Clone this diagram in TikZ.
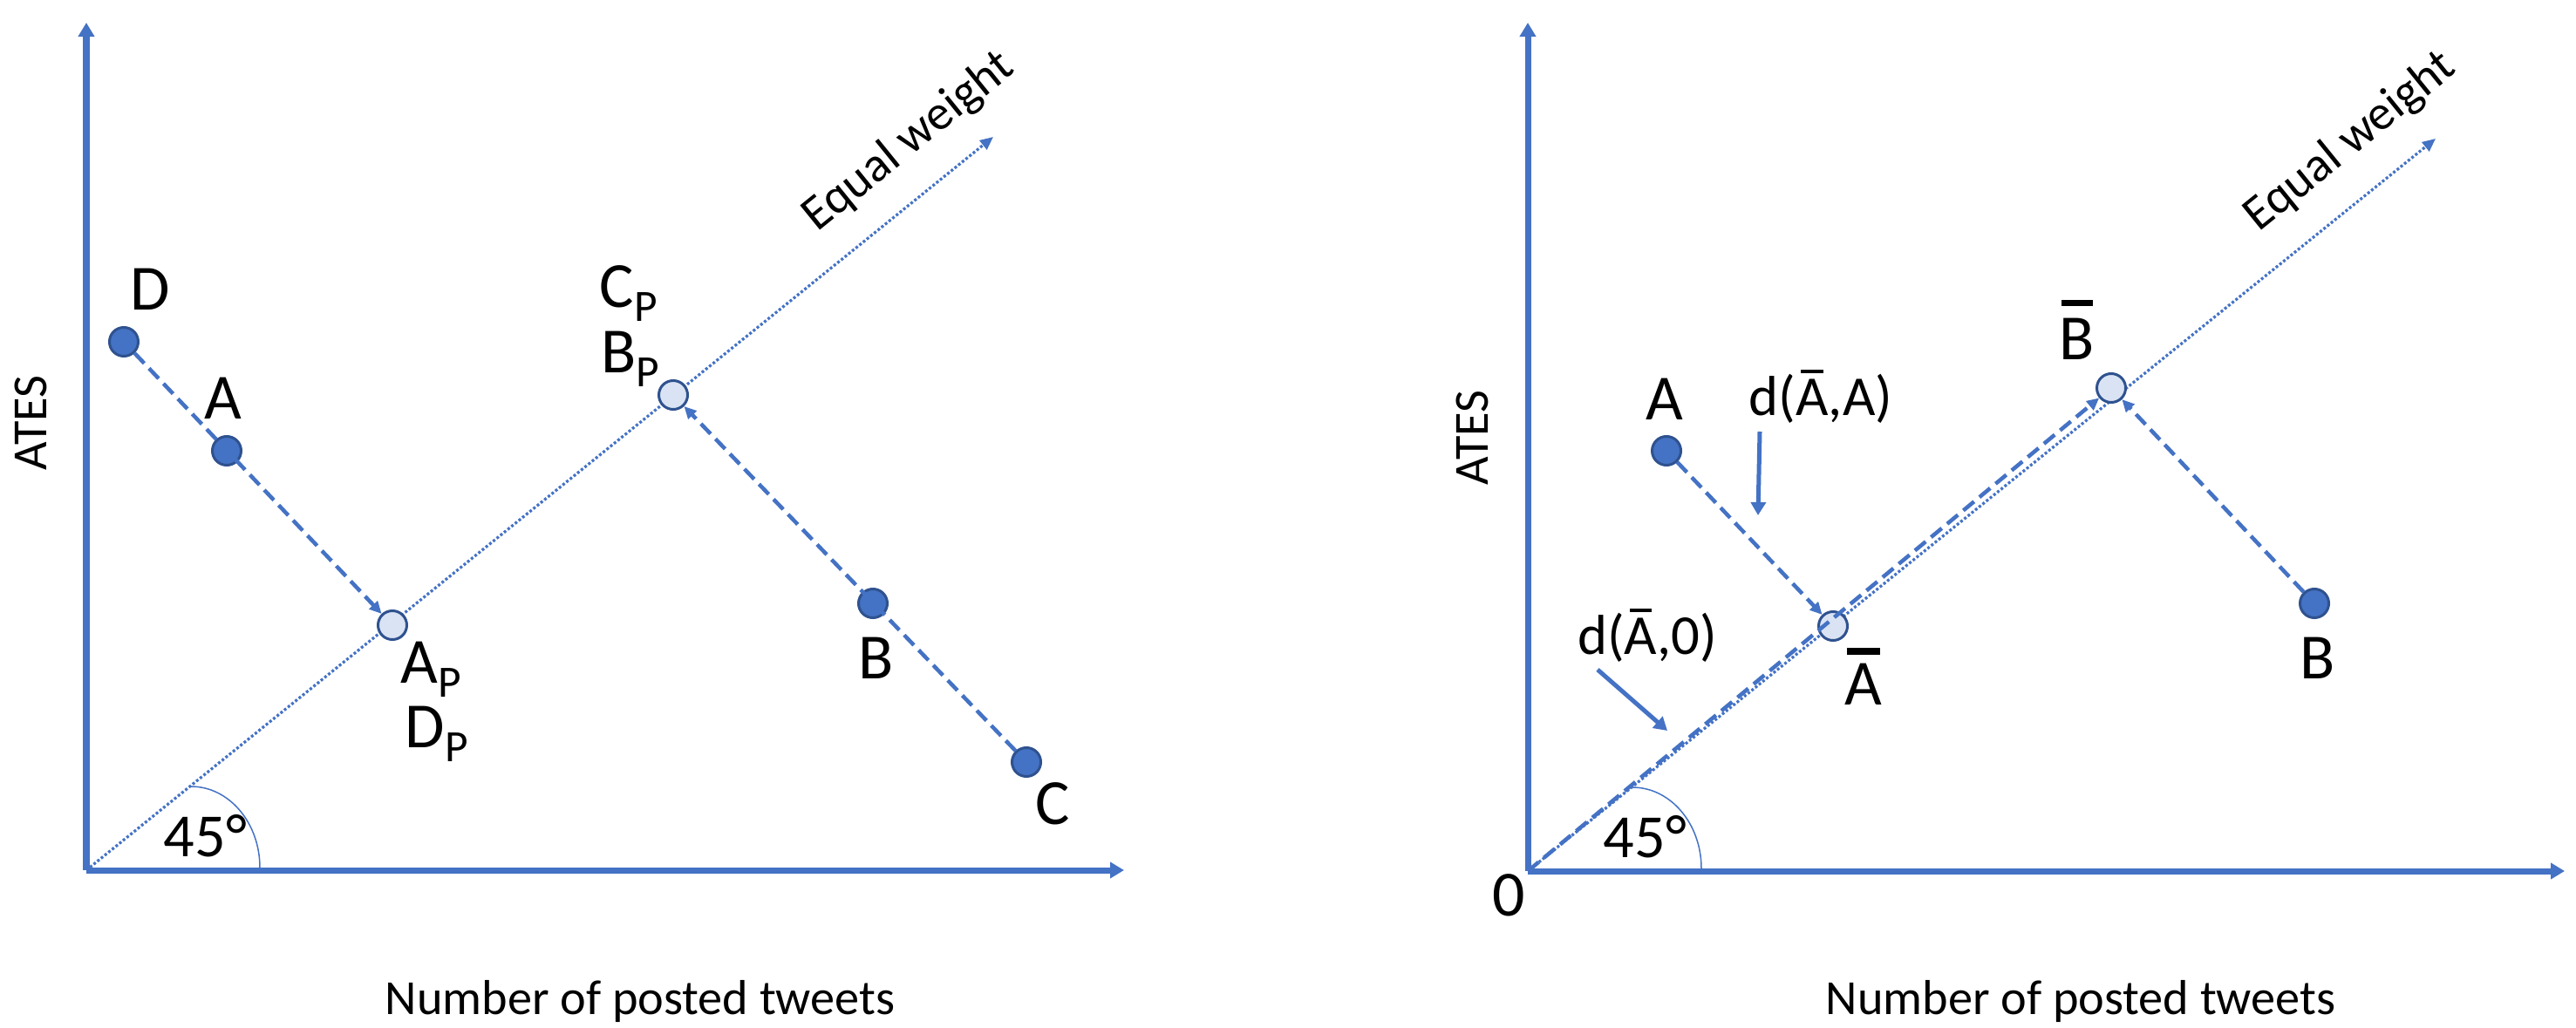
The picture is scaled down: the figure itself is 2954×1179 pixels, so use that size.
\documentclass[tikz,border=0pt]{standalone}
\usepackage{fontspec}
\setmainfont{Carlito}
\usetikzlibrary{arrows.meta}
\definecolor{ablue}{HTML}{4472C4}
\definecolor{aborder}{HTML}{2F528F}
\definecolor{alight}{HTML}{DAE3F3}
\newcommand\subP{\raisebox{-4.8pt}{\fontsize{14.6pt}{16pt}\selectfont P}}
% #1 bar thickness, #2 gap, #3 width fraction, #4 text
\newcommand\thickbar[4]{\leavevmode\setbox0\hbox{#4}\vbox{\offinterlineskip\hbox to \wd0{\hss\vrule height #1 depth 0pt width #3\wd0\hss}\kern #2\box0}}
\tikzset{
 pt/.style={circle, draw=aborder, fill=ablue, line width=0.03cm, minimum size=0.33cm, inner sep=0pt},
 ppt/.style={pt, fill=alight},
 axis/.style={draw=ablue, line width=0.07cm, -{Triangle[length=0.16cm,width=0.18cm]}},
 eqline/.style={draw=ablue, line width=0.032cm, dash pattern=on 0.03cm off 0.024cm, -{Triangle[length=0.15cm,width=0.13cm]}},
 proj/.style={draw=ablue, line width=0.045cm, dash pattern=on 0.16cm off 0.08cm, -{Triangle[length=0.14cm,width=0.13cm]}},
 pointer/.style={draw=ablue, line width=0.05cm, -{Triangle[length=0.15cm,width=0.17cm]}},
 arcline/.style={draw=ablue, line width=0.015cm},
 big/.style={font=\fontsize{21pt}{25pt}\selectfont, inner sep=0pt},
 mid/.style={font=\fontsize{18.4pt}{22pt}\selectfont, inner sep=0pt},
 deg/.style={font=\fontsize{20pt}{24pt}\selectfont, inner sep=0pt},
 small/.style={font=\fontsize{16pt}{19pt}\selectfont, inner sep=0pt},
}
\begin{document}
\begin{tikzpicture}[x=0.01cm, y=-0.01cm]
\useasboundingbox (0,0) rectangle (2954,1179);

% ---------------- left panel ----------------
\coordinate (O1) at (99,998);
\coordinate (Y1) at (99,26);
\coordinate (X1) at (1289,998);
\coordinate (E1) at (1139,157);
\draw[axis] (O1) -- (Y1);
\draw[axis] (O1) -- (X1);
\draw[eqline] (O1) -- (E1);
\draw[arcline] (219,902) .. controls (262.6,902) and (298,943.7) .. (298,995);

\node[pt] (D) at (142,392) {};
\node[pt] (A) at (260,517) {};
\node[ppt] (AP) at (450,717) {};
\node[ppt] (CB) at (772,453) {};
\node[pt] (B) at (1001,692) {};
\node[pt] (C) at (1177,874) {};

\draw[proj] (D) -- (AP);
\draw[proj] (C) -- (CB);

\node[big, anchor=base] (lD) at (172,356) {D};
\node[big, anchor=base] (lA) at (256,480) {A};
\node[big, anchor=base west] (lAP) at (459,783) {A\subP};
\node[big, anchor=base west] (lDP) at (464,857) {D\subP};
\node[big, anchor=base west] (lCP) at (687,352) {C\subP};
\node[big, anchor=base west] (lBP) at (689,427) {B\subP};
\node[big, anchor=base] (lB) at (1005,778) {B};
\node[big, anchor=base] (lC) at (1207,945) {C};
\node[deg, anchor=base west] (l45a) at (187,982) {45°};
\node[small, rotate=90, anchor=base] (yl1) at (54,485) {ATES};
\node[small, anchor=base] (xl1) at (734,1163) {Number of posted tweets};
\node[small, rotate=39, anchor=base west] (ew1) at (937,267) {Equal weight};

% ---------------- right panel ----------------
\coordinate (O2) at (1752,999);
\coordinate (Y2) at (1752,26);
\coordinate (X2) at (2941,999);
\coordinate (E2) at (2793,159);
\draw[axis] (O2) -- (Y2);
\draw[axis] (O2) -- (X2);
\draw[eqline] (O2) -- (E2);
\draw[arcline] (1872,903) .. controls (1915.6,903) and (1951,944.7) .. (1951,996);

\node[pt] (RA) at (1911,517) {};
\node[ppt] (Abar) at (2102,718) {};
\node[ppt] (Bbar) at (2421,445) {};
\node[pt] (RB) at (2654,692) {};

\draw[proj] (RA) -- (Abar);
\draw[proj] (RB) -- (Bbar);
\draw[proj] (O2) -- (Bbar);

\coordinate (p1s) at (2018,495);
\coordinate (p1e) at (2016,591);
\coordinate (p2s) at (1832,768);
\coordinate (p2e) at (1912,838);
\draw[pointer] (p1s) -- (p1e);
\draw[pointer] (p2s) -- (p2e);

\node[big, anchor=base] (lRA) at (1909,481) {A};
\node[big, anchor=base] (lAbar) at (2137,808) {\thickbar{2.3pt}{2.6pt}{0.87}{A}};
\node[big, anchor=base] (lBbar) at (2382,412) {\thickbar{2.1pt}{3.8pt}{0.9}{B}};
\node[big, anchor=base] (lRB) at (2658,778) {B};
\node[big, anchor=base] (l0) at (1730,1050) {0};
\node[mid, anchor=base] (ldA) at (2088,476) {d(\thickbar{1.1pt}{1.8pt}{0.68}{A},A)};
\node[mid, anchor=base] (ld0) at (1889,750) {d(\thickbar{1.1pt}{1.8pt}{0.68}{A},0)};
\node[deg, anchor=base west] (l45b) at (1838,983) {45°};
\node[small, rotate=90, anchor=base] (yl2) at (1706,502) {ATES};
\node[small, anchor=base] (xl2) at (2386,1163) {Number of posted tweets};
\node[small, rotate=39, anchor=base west] (ew2) at (2590,267) {Equal weight};
\end{tikzpicture}
\end{document}
